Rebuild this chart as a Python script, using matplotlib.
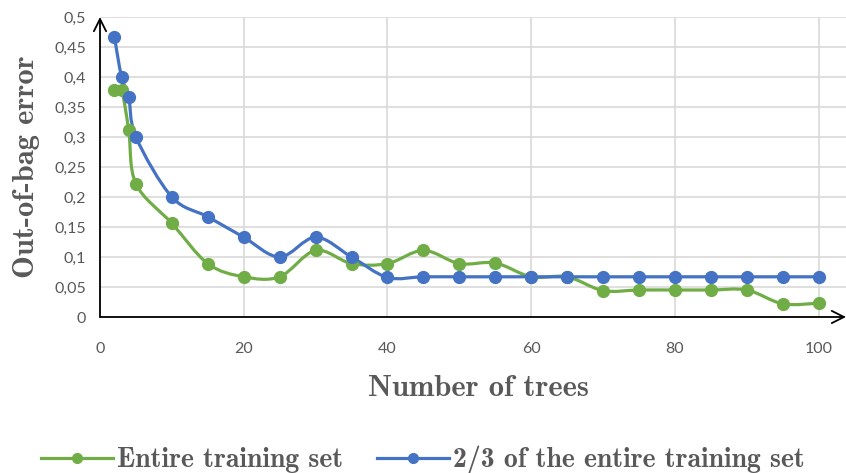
import numpy as np
import matplotlib
matplotlib.use("Agg")
import matplotlib.pyplot as plt
from matplotlib.path import Path
from matplotlib.patches import PathPatch
from matplotlib.lines import Line2D

# Data
trees = [2, 3, 4, 5, 10, 15, 20, 25, 30, 35, 40, 45, 50, 55, 60, 65, 70, 75, 80, 85, 90, 95, 100]
err_full = [0.378, 0.378, 0.311, 0.222, 0.156, 0.089, 0.067, 0.067, 0.111, 0.089, 0.089, 0.111,
            0.089, 0.090, 0.067, 0.067, 0.044, 0.045, 0.045, 0.045, 0.045, 0.022, 0.023]
err_two_thirds = [0.467, 0.400, 0.367, 0.300, 0.200, 0.167, 0.133, 0.100, 0.133, 0.100, 0.066, 0.067,
                  0.067, 0.067, 0.067, 0.067, 0.067, 0.067, 0.067, 0.067, 0.067, 0.067, 0.067]
labels = ["Entire training set", "2/3 of the entire training set"]
colors = ["#70AD47", "#4472C4"]

x_ticks = [0, 20, 40, 60, 80, 100]
y_ticks = [0, 0.05, 0.1, 0.15, 0.2, 0.25, 0.3, 0.35, 0.4, 0.45, 0.5]
y_ticklabels = ["0", "0,05", "0,1", "0,15", "0,2", "0,25", "0,3", "0,35", "0,4", "0,45", "0,5"]

label_font = "cmb10"
tick_font = "Lato"
gray = "#595959"


def smooth_path(x, y):
    # Excel-like smoothed line: Catmull-Rom converted to cubic Bezier segments
    pts = np.column_stack([x, y]).astype(float)
    verts = [pts[0]]
    codes = [Path.MOVETO]
    n = len(pts)
    for i in range(n - 1):
        p0 = pts[max(i - 1, 0)]
        p1 = pts[i]
        p2 = pts[i + 1]
        p3 = pts[min(i + 2, n - 1)]
        c1 = p1 + (p2 - p0) / 6.0
        c2 = p2 - (p3 - p1) / 6.0
        verts += [c1, c2, p2]
        codes += [Path.CURVE4] * 3
    return Path(verts, codes)


fig = plt.figure(figsize=(8.46, 4.73), dpi=100)
ax = fig.add_axes([100 / 846, 1 - 317 / 473, 746 / 846, 300 / 473])

for ys, c in zip([err_full, err_two_thirds], colors):
    ax.add_patch(PathPatch(smooth_path(trees, ys), fill=False, edgecolor=c, lw=2.3,
                           capstyle="round", joinstyle="round", zorder=3))
    ax.plot(trees, ys, ls="none", marker="o", ms=8.5, color=c, zorder=4)

ax.set_xlim(0, 103.8)
ax.set_ylim(0, 0.5)
ax.set_xticks(x_ticks)
ax.set_yticks(y_ticks)
ax.set_yticklabels(y_ticklabels)
ax.tick_params(length=0, labelsize=11.5, labelcolor=gray)
ax.tick_params(axis="x", pad=18)
ax.tick_params(axis="y", pad=10)
for t in ax.get_xticklabels() + ax.get_yticklabels():
    t.set_fontfamily(tick_font)

ax.grid(True, color="#d9d9d9", lw=1.2)
ax.set_axisbelow(True)
for s in ax.spines.values():
    s.set_visible(False)

# arrow axes
ax.annotate("", xy=(0, 1.0), xytext=(0, 0), xycoords="axes fraction",
            arrowprops=dict(arrowstyle="->", lw=1.3, color="black", mutation_scale=22,
                            shrinkA=0, shrinkB=0), annotation_clip=False)
ax.annotate("", xy=(1.0, 0), xytext=(0, 0), xycoords="axes fraction",
            arrowprops=dict(arrowstyle="->", lw=1.3, color="black", mutation_scale=22,
                            shrinkA=0, shrinkB=0), annotation_clip=False)

ax.set_xlabel("Number of trees", fontfamily=label_font, fontsize=22, color=gray, va="center")
ax.set_ylabel("Out-of-bag error", fontfamily=label_font, fontsize=22, color=gray, va="center")
ax.xaxis.set_label_coords((478 - 100) / 746, -(388 - 317) / 300)
ax.yaxis.set_label_coords(-(100 - 27) / 746, 0.5)

handles = [Line2D([], [], color=c, lw=2.3, marker="o", ms=7) for c in colors]
leg = fig.legend(handles, labels, loc="center", bbox_to_anchor=(0.5, 1 - 460 / 473), ncol=2,
                 frameon=False, handlelength=2.6, handletextpad=0.15, columnspacing=1.2,
                 prop={"family": label_font, "size": 20})
for t in leg.get_texts():
    t.set_color(gray)

fig.savefig("out.png", dpi=100)
